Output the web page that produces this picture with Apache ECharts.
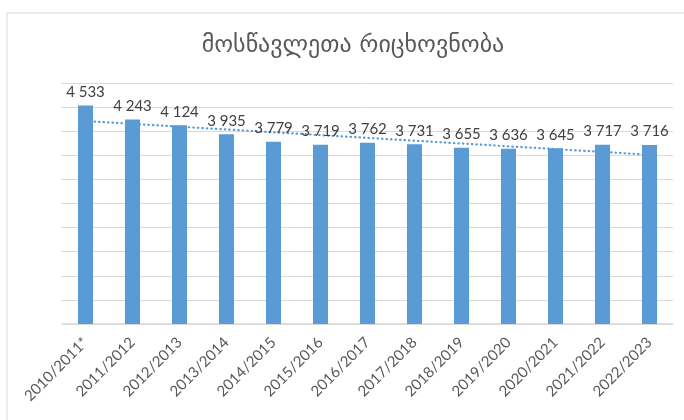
<!DOCTYPE html>
<html>
<head>
<meta charset="utf-8">
<title>მოსწავლეთა რიცხოვნობა</title>
<script src="https://cdn.jsdelivr.net/npm/echarts@6/dist/echarts.min.js"></script>
<style>
  html, body { margin: 0; padding: 0; background: #fff; }
  #chart { width: 684px; height: 420px; }
</style>
</head>
<body>
<div id="chart"></div>
<script>
// school years and number of students
var years = ['2010/2011*', '2011/2012', '2012/2013', '2013/2014', '2014/2015', '2015/2016',
  '2016/2017', '2017/2018', '2018/2019', '2019/2020', '2020/2021', '2021/2022', '2022/2023'];
var students = [4533, 4243, 4124, 3935, 3779, 3719, 3762, 3731, 3655, 3636, 3645, 3717, 3716];
// linear trendline ends
var trendStart = 4210;
var trendEnd = 3512;

var chart = echarts.init(document.getElementById('chart'));

var option = {
  backgroundColor: '#ffffff',
  animation: false,
  title: {
    text: 'მოსწავლეთა რიცხოვნობა',
    left: 348,
    top: 29,
    textAlign: 'center',
    textStyle: {
      fontFamily: 'DejaVu Sans',
      fontWeight: 'normal',
      fontSize: 24,
      color: '#595959'
    }
  },
  graphic: [{
    type: 'rect',
    shape: { x: 7, y: 13, width: 700, height: 440 },
    style: { fill: 'none', stroke: '#d9d9d9', lineWidth: 1 },
    silent: true
  }],
  grid: { left: 62, right: 11, top: 83, bottom: 96 },
  xAxis: {
    type: 'category',
    data: years,
    axisTick: { show: false },
    axisLine: { lineStyle: { color: '#d9d9d9', width: 1.5 } },
    axisLabel: {
      rotate: 45,
      interval: 0,
      margin: 16,
      fontFamily: 'Lato',
      fontSize: 15,
      color: '#595959'
    }
  },
  yAxis: {
    type: 'value',
    min: 0,
    max: 5000,
    interval: 500,
    axisLabel: { show: false },
    axisLine: { show: false },
    axisTick: { show: false },
    splitLine: { lineStyle: { color: '#d9d9d9', width: 1 } }
  },
  series: [{
    name: 'trend',
    type: 'line',
    data: [[years[0], trendStart], [years[years.length - 1], trendEnd]],
    symbol: 'none',
    z: 1,
    lineStyle: { color: '#5b9bd5', width: 2.2, type: [0.5, 4], cap: 'round' }
  }, {
    name: 'students',
    type: 'bar',
    data: students,
    barWidth: '32%',
    z: 3,
    itemStyle: { color: '#5b9bd5' },
    label: {
      show: true,
      position: 'top',
      distance: 6,
      fontFamily: 'Lato',
      fontSize: 15,
      color: '#404040',
      formatter: function (p) {
        return String(p.value).replace(/\B(?=(\d{3})+(?!\d))/g, ' ');
      }
    }
  }]
};

chart.setOption(option);
</script>
</body>
</html>
